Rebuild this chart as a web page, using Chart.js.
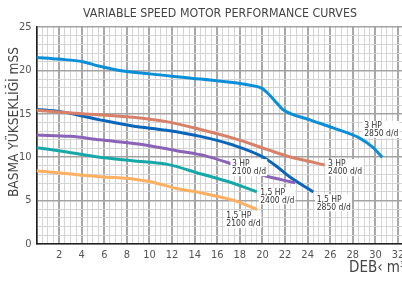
<!DOCTYPE html>
<html>
<head>
<meta charset="utf-8">
<script src="https://cdn.jsdelivr.net/npm/chart.js@4/dist/chart.umd.min.js"></script>
<style>
	html, body { margin: 0; padding: 0; background: #ffffff; }
	#wrap { width: 402px; height: 282px; position: relative; }
</style>
</head>
<body>
<div id="wrap"><canvas id="perf_canvas"></canvas></div>
<script>
	// flow (m3/h) and head (mSS)
	const hp3_2850_x = [0, 2, 4.1, 5.5, 7.1, 10, 14.5, 18.9, 20, 20.6, 21.3, 21.8, 24.2, 26.2, 28.6, 29.8, 30.6];
	const hp3_2850_y = [21.5, 21.3, 21.0, 20.5, 20.05, 19.6, 19.0, 18.3, 17.9, 17.2, 16.2, 15.5, 14.3, 13.4, 12.2, 11.1, 10.0];

	const hp3_2400_x = [0, 4, 8.5, 11.5, 14.5, 17.4, 20.4, 22.4, 24.2, 25.5];
	const hp3_2400_y = [15.4, 15.0, 14.6, 14.1, 13.2, 12.2, 10.9, 10.05, 9.5, 9.1];

	const hp15_2850_x = [0, 2.1, 5.6, 8.5, 11.5, 14.5, 17.4, 20.0, 21.3, 22.4, 24.5];
	const hp15_2850_y = [15.5, 15.25, 14.3, 13.6, 13.1, 12.4, 11.4, 10.05, 8.9, 7.75, 6.0];

	const hp3_2100_x = [0, 3, 5.6, 9.2, 12.4, 15.1, 17.1, 20.0, 22.9];
	const hp3_2100_y = [12.55, 12.4, 12.0, 11.5, 10.75, 10.1, 9.3, 7.95, 7.05];

	const hp15_2400_x = [0, 2.7, 5.6, 8.5, 11.5, 14.5, 17.4, 19.5];
	const hp15_2400_y = [11.1, 10.6, 10.0, 9.6, 9.2, 8.1, 7.0, 6.0];

	const hp15_2100_x = [0, 5.6, 8.5, 10, 12.4, 14.5, 17.4, 19.5];
	const hp15_2100_y = [8.45, 7.75, 7.5, 7.2, 6.4, 5.9, 5.05, 4.0];

	const xTicks = [2, 4, 6, 8, 10, 12, 14, 16, 18, 20, 22, 24, 26, 28, 30, 32];
	const yTicks = [0, 5, 10, 15, 20, 25];

	const chartTitle = 'VARIABLE SPEED MOTOR PERFORMANCE CURVES';
	const yTitle = 'BASMA YÜKSEKLİĞİ mSS';
	const xTitle = 'DEB‹ m³/h';

	// curve captions: text + where the box sits (data units)
	const captions = [
		{ l1: '3 HP',   l2: '2850 d/d', x: 29.0, y: 13.6 },
		{ l1: '3 HP',   l2: '2400 d/d', x: 25.8, y: 9.2 },
		{ l1: '3 HP',   l2: '2100 d/d', x: 17.3, y: 9.2 },
		{ l1: '1,5 HP', l2: '2400 d/d', x: 19.8, y: 5.95 },
		{ l1: '1,5 HP', l2: '2850 d/d', x: 24.8, y: 5.15 },
		{ l1: '1,5 HP', l2: '2100 d/d', x: 16.8, y: 3.2 }
	];

	const NARROW = '"Liberation Sans Narrow", "DejaVu Sans Condensed", "Roboto Condensed", sans-serif';

	function pts(xs, ys) {
		return xs.map((x, i) => ({ x: x, y: ys[i] }));
	}

	function curve(label, xs, ys, color) {
		return {
			label: label,
			data: pts(xs, ys),
			borderColor: color,
			backgroundColor: color,
			borderWidth: 3,
			pointRadius: 0,
			fill: false,
			cubicInterpolationMode: 'monotone'
		};
	}

	const textPlugin = {
		id: 'textPlugin',
		afterDatasetsDraw(chart) {
			const ctx = chart.ctx;
			const xs = chart.scales.x, ys = chart.scales.y;
			ctx.save();
			ctx.font = '8.5px ' + NARROW;
			ctx.textBaseline = 'middle';
			ctx.textAlign = 'left';
			captions.forEach(c => {
				const px = xs.getPixelForValue(c.x);
				const py = ys.getPixelForValue(c.y);
				const w = Math.max(ctx.measureText(c.l1).width, ctx.measureText(c.l2).width);
				ctx.fillStyle = '#ffffff';
				ctx.fillRect(px - 1.5, py - 5, w + 2.5, 17);
				ctx.fillStyle = '#333333';
				ctx.fillText(c.l1, px, py);
				ctx.fillText(c.l2, px, py + 8);
			});
			ctx.restore();
		},
		afterDraw(chart) {
			const ctx = chart.ctx;
			ctx.save();
			ctx.fillStyle = '#444444';
			ctx.textBaseline = 'middle';
			ctx.font = '12.3px ' + NARROW;
			ctx.textAlign = 'center';
			ctx.fillText(chartTitle, 220, 14);

			ctx.font = '15px ' + NARROW;
			ctx.textAlign = 'left';
			ctx.fillText(xTitle, 349, 268);

			ctx.font = '13.6px ' + NARROW;
			ctx.translate(14, 122);
			ctx.rotate(-Math.PI / 2);
			ctx.textAlign = 'center';
			ctx.fillText(yTitle, 0, 0);
			ctx.restore();
		}
	};

	const ctx = document.getElementById('perf_canvas').getContext('2d');

	const perf_chart = new Chart(ctx, {
		type: 'line',
		data: {
			datasets: [
				curve('3 HP 2850 d/d', hp3_2850_x, hp3_2850_y, '#0a8fd8'),
				curve('3 HP 2400 d/d', hp3_2400_x, hp3_2400_y, '#d98068'),
				curve('3 HP 2100 d/d', hp3_2100_x, hp3_2100_y, '#8a62b8'),
				curve('1,5 HP 2400 d/d', hp15_2400_x, hp15_2400_y, '#16a8a8'),
				curve('1,5 HP 2100 d/d', hp15_2100_x, hp15_2100_y, '#ffb060'),
				curve('1,5 HP 2850 d/d', hp15_2850_x, hp15_2850_y, '#0a66bb')
			]
		},
		options: {
			responsive: true,
			maintainAspectRatio: false,
			animation: false,
			layout: { padding: { top: 27, left: 0, right: 0, bottom: 0 } },
			plugins: {
				legend: { display: false },
				tooltip: { enabled: false },
				title: { display: false }
			},
			scales: {
				x: {
					type: 'linear',
					min: 0,
					max: 32.35,
					afterFit: (s) => { s.height = 38; s.paddingLeft = 0; s.paddingRight = 0; },
					border: { color: '#222222', width: 1.5 },
					grid: {
						drawTicks: false,
						color: (c) => (c.tick.value % 2 === 0 ? '#a8a8a8' : '#d4d4d4'),
						lineWidth: (c) => (c.tick.value % 2 === 0 ? 2 : 1)
					},
					ticks: {
						stepSize: 0.5,
						autoSkip: false,
						includeBounds: false,
						maxRotation: 0,
						padding: 5,
						color: '#555555',
						font: { family: NARROW, size: 11 },
						callback: (v) => (xTicks.includes(v) ? String(v) : '')
					}
				},
				y: {
					min: 0,
					max: 25,
					afterFit: (s) => { s.width = 36.5; s.paddingTop = 0; s.paddingBottom = 0; },
					border: { color: '#222222', width: 1.5 },
					grid: {
						drawTicks: false,
						color: (c) => (c.tick.value % 5 === 0 ? '#a3a3a3' : '#d4d4d4'),
						lineWidth: (c) => (c.tick.value % 5 === 0 ? 1.5 : 1)
					},
					ticks: {
						stepSize: 1,
						autoSkip: false,
						padding: 5,
						color: '#555555',
						font: { family: NARROW, size: 11 },
						callback: (v) => (yTicks.includes(v) ? String(v) : '')
					}
				}
			}
		},
		plugins: [textPlugin]
	});
</script>
</body>
</html>
